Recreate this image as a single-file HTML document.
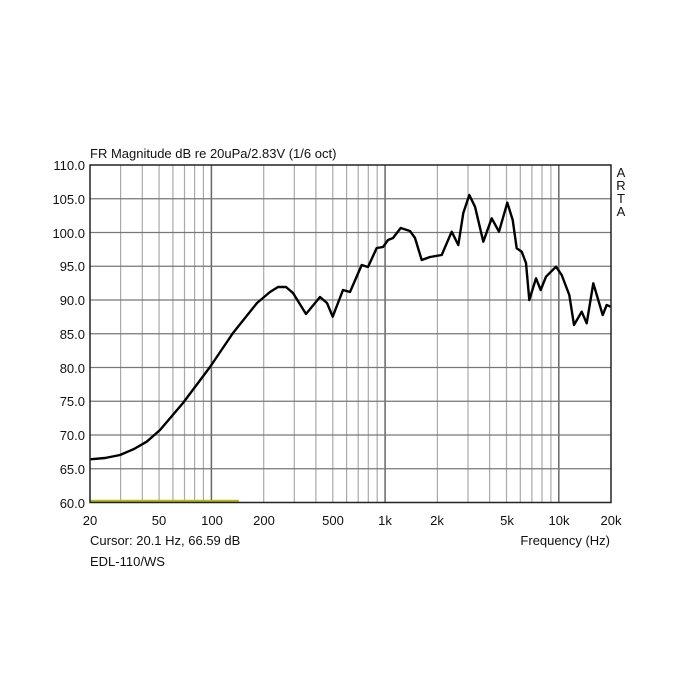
<!DOCTYPE html><html><head><style>body{margin:0;background:#fff}svg{display:block}text{font-family:"Liberation Sans",Arial,sans-serif;font-size:13px;fill:#111}</style></head><body>
<svg width="700" height="700" viewBox="0 0 700 700" xmlns="http://www.w3.org/2000/svg">
<g stroke="#aaa" stroke-width="1.2">
<line x1="120.6" y1="165" x2="120.6" y2="502.5"/><line x1="142.3" y1="165" x2="142.3" y2="502.5"/><line x1="159.1" y1="165" x2="159.1" y2="502.5"/><line x1="172.9" y1="165" x2="172.9" y2="502.5"/><line x1="184.5" y1="165" x2="184.5" y2="502.5"/><line x1="194.6" y1="165" x2="194.6" y2="502.5"/><line x1="203.4" y1="165" x2="203.4" y2="502.5"/>
<line x1="263.7" y1="165" x2="263.7" y2="502.5"/><line x1="294.3" y1="165" x2="294.3" y2="502.5"/><line x1="315.9" y1="165" x2="315.9" y2="502.5"/><line x1="332.8" y1="165" x2="332.8" y2="502.5"/><line x1="346.6" y1="165" x2="346.6" y2="502.5"/><line x1="358.2" y1="165" x2="358.2" y2="502.5"/><line x1="368.3" y1="165" x2="368.3" y2="502.5"/><line x1="377.2" y1="165" x2="377.2" y2="502.5"/>
<line x1="437.4" y1="165" x2="437.4" y2="502.5"/><line x1="468.0" y1="165" x2="468.0" y2="502.5"/><line x1="489.6" y1="165" x2="489.6" y2="502.5"/><line x1="506.5" y1="165" x2="506.5" y2="502.5"/><line x1="520.3" y1="165" x2="520.3" y2="502.5"/><line x1="531.9" y1="165" x2="531.9" y2="502.5"/><line x1="542.0" y1="165" x2="542.0" y2="502.5"/><line x1="550.9" y1="165" x2="550.9" y2="502.5"/>
</g>
<g stroke="#666" stroke-width="1.5">
<line x1="211.4" y1="165" x2="211.4" y2="502.5"/><line x1="385.1" y1="165" x2="385.1" y2="502.5"/><line x1="558.8" y1="165" x2="558.8" y2="502.5"/>
</g>
<g stroke="#777" stroke-width="1.2">
<line x1="90" y1="198.75" x2="611" y2="198.75"/><line x1="90" y1="232.5" x2="611" y2="232.5"/><line x1="90" y1="266.25" x2="611" y2="266.25"/><line x1="90" y1="300" x2="611" y2="300"/><line x1="90" y1="333.75" x2="611" y2="333.75"/><line x1="90" y1="367.5" x2="611" y2="367.5"/><line x1="90" y1="401.25" x2="611" y2="401.25"/><line x1="90" y1="435" x2="611" y2="435"/><line x1="90" y1="468.75" x2="611" y2="468.75"/>
</g>
<line x1="90" y1="501" x2="239" y2="501" stroke="#b8b820" stroke-width="2.5"/>
<polyline fill="none" stroke="#000" stroke-width="2.4" stroke-linejoin="round" points="90,459.3 105,458 120,455 134,449 146.7,441.7 160,430 183,403 210,367 233,333 257,303 270,292 278,287 286,287 293,293 306,314 320,297 327,303 332.7,316.7 343,290 350,292 361.7,265 368,267 376.7,248 383,247 388,240 393,238 400.7,228 410,231 415,238 421.7,260 430,257 441.7,255 451.7,231.7 458.3,245 463.3,213 469.3,195 475,206.7 483.3,241.7 491.7,218.3 499,231.7 507.3,202.7 512.7,220 516.7,248.3 521.7,251.7 526,263 529.3,300 536,278.3 540.7,290 546,276.7 556,266.7 561.7,275 569.3,295 574,325 581.7,311.7 586.7,323.3 593.3,283.3 602.7,315 606.7,305 610.7,306.7"/>
<rect x="90" y="165" width="521" height="337.5" fill="none" stroke="#222" stroke-width="1.5"/>
<text x="90" y="158">FR Magnitude dB re 20uPa/2.83V (1/6 oct)</text>
<g text-anchor="end">
<text x="85" y="170">110.0</text><text x="85" y="204">105.0</text><text x="85" y="238">100.0</text><text x="85" y="271">95.0</text><text x="85" y="305">90.0</text><text x="85" y="339">85.0</text><text x="85" y="373">80.0</text><text x="85" y="406">75.0</text><text x="85" y="440">70.0</text><text x="85" y="474">65.0</text><text x="85" y="508">60.0</text>
</g>
<g text-anchor="middle">
<text x="90" y="525">20</text><text x="159" y="525">50</text><text x="212" y="525">100</text><text x="264" y="525">200</text><text x="333" y="525">500</text><text x="385" y="525">1k</text><text x="437" y="525">2k</text><text x="507" y="525">5k</text><text x="559" y="525">10k</text><text x="611" y="525">20k</text>
<text x="621" y="177">A</text><text x="621" y="190">R</text><text x="621" y="203">T</text><text x="621" y="216">A</text>
</g>
<text x="90" y="545">Cursor: 20.1 Hz, 66.59 dB</text>
<text x="90" y="566">EDL-110/WS</text>
<text x="610" y="545" text-anchor="end">Frequency (Hz)</text>
</svg></body></html>
